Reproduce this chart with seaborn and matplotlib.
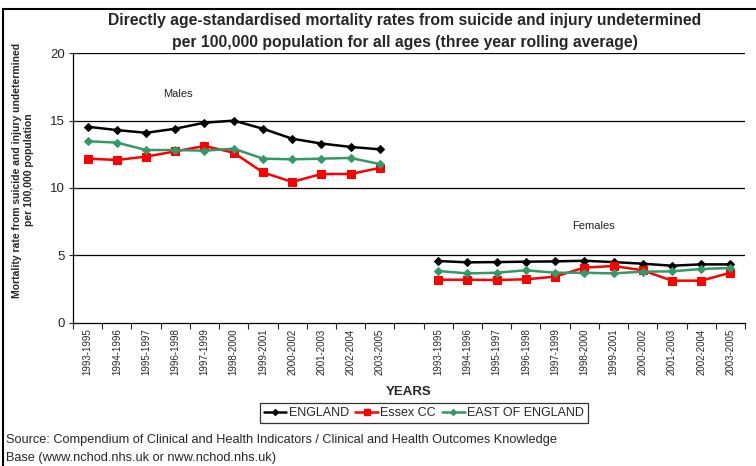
import numpy as np
import pandas as pd
import matplotlib
matplotlib.use("Agg")
import matplotlib.pyplot as plt
from matplotlib.lines import Line2D
from matplotlib.patches import Rectangle
import seaborn as sns

# --- data ---
periods = ["1993-1995", "1994-1996", "1995-1997", "1996-1998", "1997-1999",
           "1998-2000", "1999-2001", "2000-2002", "2001-2003", "2002-2004",
           "2003-2005"]

england_m = [14.55, 14.3, 14.1, 14.4, 14.85, 15.0, 14.4, 13.66, 13.3, 13.05, 12.87]
essex_m = [12.18, 12.08, 12.33, 12.72, 13.12, 12.62, 11.16, 10.45, 11.04, 11.04, 11.49]
eoe_m = [13.47, 13.37, 12.82, 12.82, 12.77, 12.92, 12.18, 12.13, 12.18, 12.23, 11.78]

england_f = [4.58, 4.48, 4.5, 4.53, 4.55, 4.6, 4.5, 4.38, 4.23, 4.33, 4.33]
essex_f = [3.19, 3.19, 3.17, 3.22, 3.42, 4.09, 4.21, 3.89, 3.12, 3.12, 3.71]
eoe_f = [3.84, 3.66, 3.71, 3.89, 3.71, 3.71, 3.66, 3.79, 3.81, 3.99, 4.06]

regions = ["ENGLAND", "Essex CC", "EAST OF ENGLAND"]
colors = {"ENGLAND": "#000000", "Essex CC": "#ff0000", "EAST OF ENGLAND": "#339966"}
markers = {"ENGLAND": "D", "Essex CC": "s", "EAST OF ENGLAND": "D"}
msizes = {"ENGLAND": 4, "Essex CC": 6, "EAST OF ENGLAND": 4}

# long-form table: males in slots 0-10, an empty slot, females in 12-22
rows = []
n = len(periods)
for sex, offset, series in [("Males", 0, [england_m, essex_m, eoe_m]),
                            ("Females", n + 1, [england_f, essex_f, eoe_f])]:
    for reg, vals in zip(regions, series):
        for i, v in enumerate(vals):
            rows.append({"pos": offset + i, "rate": v, "region": reg, "sex": sex})
df = pd.DataFrame(rows)

tick_labels = periods + [""] + periods

sns.set_style("white")
plt.rcParams["font.family"] = ["Liberation Sans", "DejaVu Sans"]

fig = plt.figure(figsize=(7.56, 4.66), dpi=100)
ax = fig.add_axes([73 / 756, 1 - 322.7 / 466, (745 - 73) / 756, (322.7 - 53.3) / 466])

for sex in ["Males", "Females"]:
    for reg in regions:
        sub = df[(df.sex == sex) & (df.region == reg)]
        sns.lineplot(data=sub, x="pos", y="rate", color=colors[reg], marker=markers[reg],
                     markersize=msizes[reg], markeredgecolor=colors[reg], linewidth=1.8,
                     ax=ax, legend=False)

ax.set_xlim(-0.5, 2 * n + 0.5)
ax.set_ylim(0, 20)
ax.set_yticks([0, 5, 10, 15, 20])
ax.set_yticklabels(["0", "5", "10", "15", "20"], fontsize=9.5)
for y in [5, 10, 15, 20]:
    ax.axhline(y, color="black", linewidth=0.9, zorder=0)

ax.set_xticks(np.arange(2 * n + 1))
ax.set_xticklabels(tick_labels, rotation=90, fontsize=7)
ax.set_xticks(np.arange(-0.5, 2 * n + 1, 1.0), minor=True)
ax.tick_params(axis="x", which="major", length=0, pad=4)
ax.tick_params(axis="x", which="minor", length=4, direction="out", width=0.8, bottom=True)
ax.tick_params(axis="y", length=6, direction="inout", width=0.8, left=True, pad=3)

for side in ["top", "right"]:
    ax.spines[side].set_visible(False)
for side in ["left", "bottom"]:
    ax.spines[side].set_color("black")
    ax.spines[side].set_linewidth(0.9)

ax.set_xlabel("YEARS", fontsize=9.5, fontweight="bold", labelpad=8)
ax.set_ylabel("Mortality rate from suicide and injury undetermined\nper 100,000 population",
              fontsize=7.5, fontweight="bold")
ax.yaxis.set_label_coords(-0.058, 0.567)

ax.text(2.58, 17.0, "Males", fontsize=8, color="#222222", va="center")
ax.text(16.6, 7.18, "Females", fontsize=8, color="#222222", va="center")

fig.text(405 / 756, 1 - 21 / 466, "Directly age-standardised mortality rates from suicide and injury undetermined",
         ha="center", va="center", fontsize=11.3, fontweight="bold")
fig.text(405 / 756, 1 - 42 / 466, "per 100,000 population for all ages (three year rolling average)",
         ha="center", va="center", fontsize=11.3, fontweight="bold")

handles = [Line2D([0], [0], color=colors[r], marker=markers[r], markersize=msizes[r] - 1,
                  linewidth=1.8) for r in regions]
leg = fig.legend(handles, regions, loc="center", bbox_to_anchor=(424 / 756, 1 - 413 / 466),
                 ncol=3, fontsize=9, frameon=True, fancybox=False, edgecolor="black",
                 handlelength=1.8, handletextpad=0.2, columnspacing=0.5,
                 borderpad=0.3, borderaxespad=0)
leg.get_frame().set_linewidth(0.9)

fig.text(6 / 756, 1 - 440 / 466,
         "Source: Compendium of Clinical and Health Indicators / Clinical and Health Outcomes Knowledge",
         fontsize=9.2, va="center")
fig.text(6 / 756, 1 - 458 / 466, "Base (www.nchod.nhs.uk or nww.nchod.nhs.uk)",
         fontsize=9.2, va="center")

# document frame around the chart
fig.add_artist(Rectangle((3 / 756, -0.05), 1.1, 1 - 9 / 466 + 0.05, transform=fig.transFigure,
                         fill=False, edgecolor="black", linewidth=1.5))

fig.savefig("out.png", dpi=100)
